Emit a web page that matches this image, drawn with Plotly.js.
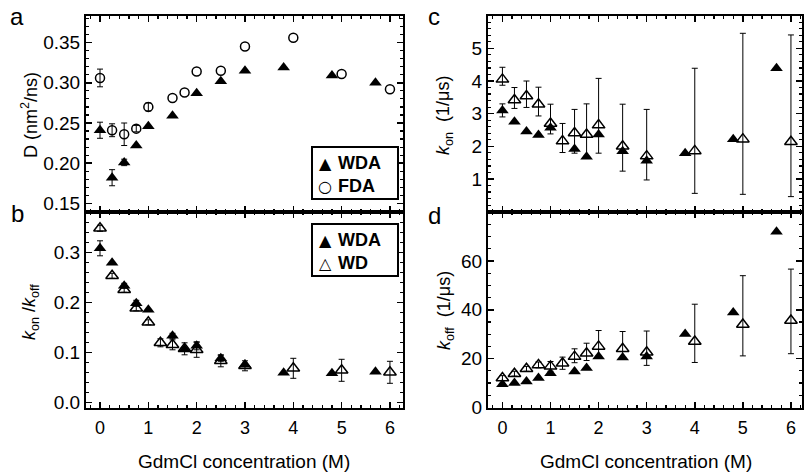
<!DOCTYPE html>
<html>
<head>
<meta charset="utf-8">
<script src="https://cdn.plot.ly/plotly-3.0.1.min.js"></script>
<style>html,body{margin:0;padding:0;background:#fff;}#chart{width:804px;height:473px;}</style>
</head>
<body>
<div id="chart"></div>
<script>
// ---- Panel a: diffusion coefficient D (nm^2/ns)
const aWdaX = [0, 0.25, 0.5, 0.75, 1, 1.5, 2, 2.5, 3, 3.8, 4.8, 5.7];
const aWdaY = [0.241, 0.182, 0.201, 0.222, 0.246, 0.259, 0.287, 0.302, 0.315, 0.319, 0.309, 0.300];
const aWdaErr = [0.010, 0.010, 0.004, null, null, null, null, null, null, null, null, null];
const aFdaX = [0, 0.25, 0.5, 0.75, 1, 1.5, 1.75, 2, 2.5, 3, 4, 5, 6];
const aFdaY = [0.306, 0.241, 0.236, 0.243, 0.270, 0.281, 0.288, 0.314, 0.315, 0.345, 0.356, 0.311, 0.292];
const aFdaErr = [0.011, 0.008, 0.014, 0.004, 0.005, null, null, null, null, null, null, null, null];

// ---- Panel b: kon/koff
const bWdaX = [0, 0.25, 0.5, 0.75, 1, 1.5, 1.75, 2, 2.5, 3, 3.8, 4.8, 5.7];
const bWdaY = [0.308, 0.279, 0.233, 0.198, 0.185, 0.133, 0.106, 0.113, 0.088, 0.075, 0.059, 0.058, 0.061];
const bWdaErr = [0.015, null, 0.005, 0.006, null, 0.005, null, 0.008, 0.006, null, null, null, null];
const bWdX = [0, 0.25, 0.5, 0.75, 1, 1.25, 1.5, 1.75, 2, 2.5, 3, 4, 5, 6];
const bWdY = [0.348, 0.253, 0.225, 0.188, 0.160, 0.119, 0.115, 0.107, 0.105, 0.083, 0.073, 0.068, 0.064, 0.060];
const bWdErr = [0.006, 0.005, 0.005, 0.005, 0.005, 0.008, 0.010, 0.012, 0.015, 0.012, 0.010, 0.020, 0.022, 0.022];

// ---- Panel c: kon (1/us)
const cWdaX = [0, 0.25, 0.5, 0.75, 1, 1.5, 1.75, 2, 2.5, 3, 3.8, 4.8, 5.7];
const cWdaY = [3.1, 2.75, 2.45, 2.35, 2.57, 1.92, 1.68, 2.36, 1.85, 1.56, 1.79, 2.22, 4.39];
const cWdaErr = [0.2, null, null, null, null, null, null, null, null, null, null, null, null];
const cWdX = [0, 0.25, 0.5, 0.75, 1, 1.25, 1.5, 1.75, 2, 2.5, 3, 4, 5, 6];
const cWdY = [4.05, 3.42, 3.54, 3.29, 2.70, 2.16, 2.41, 2.36, 2.65, 2.00, 1.70, 1.86, 2.22, 2.14];
const cWdErrPlus = [0.37, 0.38, 0.46, 0.52, 0.59, 0.54, 0.72, 0.94, 1.43, 1.29, 1.43, 2.53, 3.24, 3.27];
const cWdErrMinus = [0.18, 0.26, 0.35, 0.36, 0.32, 0.35, 0.62, 0.66, 0.86, 0.76, 0.73, 1.30, 1.69, 1.68];

// ---- Panel d: koff (1/us)
const dWdaX = [0, 0.25, 0.5, 0.75, 1, 1.5, 1.75, 2, 2.5, 3, 3.8, 4.8, 5.7];
const dWdaY = [9.5, 10.0, 10.6, 12.0, 14.0, 14.7, 16.1, 20.8, 20.4, 20.8, 30.1, 38.9, 72.0];
const dWdX = [0, 0.25, 0.5, 0.75, 1, 1.25, 1.5, 1.75, 2, 2.5, 3, 4, 5, 6];
const dWdY = [12.0, 13.8, 15.8, 17.4, 16.8, 18.1, 20.8, 22.2, 25.0, 24.0, 22.6, 27.0, 34.0, 35.6];
const dWdErrPlus = [1.0, 1.0, 1.0, 1.2, 2.0, 2.5, 3.2, 4.1, 6.5, 7.1, 8.7, 15.3, 20.0, 21.1];
const dWdErrMinus = [1.0, 1.0, 1.0, 1.2, 2.0, 2.5, 2.5, 3.0, 4.0, 4.0, 5.4, 8.6, 12.9, 13.6];

const xTickVals = [0, 1, 2, 3, 4, 5, 6];
const aTickVals = [0.15, 0.20, 0.25, 0.30, 0.35];
const bTickVals = [0.0, 0.1, 0.2, 0.3];
const cTickVals = [1, 2, 3, 4, 5];
const dTickVals = [0, 20, 40, 60];

const legendA = [{sym: '▲', label: 'WDA'}, {sym: '○', label: 'FDA'}];
const legendB = [{sym: '▲', label: 'WDA'}, {sym: '△', label: 'WD'}];

const FONT = 'Liberation Sans, Arial, sans-serif';
const BLACK = '#000';

function nanify(arr) { return arr.map(v => (v === null ? NaN : v)); }
function errObj(arr, minus) {
  const e = {type: 'data', array: nanify(arr), visible: true, color: BLACK, thickness: 1, width: 3};
  if (minus) { e.symmetric = false; e.arrayminus = nanify(minus); }
  return e;
}
function mk(x, y, xa, ya, name, symbol, size, err) {
  const m = {symbol: symbol, size: size, color: BLACK};
  m.line = symbol.indexOf('open') >= 0 ? {width: 1.5, color: BLACK} : {width: 0};
  return {x: x, y: y, xaxis: xa, yaxis: ya, name: name, type: 'scatter', mode: 'markers',
    marker: m, error_y: err ? err : {visible: false}, showlegend: false};
}

const traces = [
  mk(aWdaX, aWdaY, 'x', 'y', 'WDA', 'triangle-up', 11, errObj(aWdaErr)),
  mk(aFdaX, aFdaY, 'x', 'y', 'FDA', 'circle-open', 9, errObj(aFdaErr)),
  mk(bWdX, bWdY, 'x2', 'y2', 'WD', 'triangle-up-open', 11, errObj(bWdErr)),
  mk(bWdaX, bWdaY, 'x2', 'y2', 'WDA', 'triangle-up', 11, errObj(bWdaErr)),
  mk(cWdX, cWdY, 'x3', 'y3', 'WD', 'triangle-up-open', 11, errObj(cWdErrPlus, cWdErrMinus)),
  mk(cWdaX, cWdaY, 'x3', 'y3', 'WDA', 'triangle-up', 11, errObj(cWdaErr)),
  mk(dWdX, dWdY, 'x4', 'y4', 'WD', 'triangle-up-open', 11, errObj(dWdErrPlus, dWdErrMinus)),
  mk(dWdaX, dWdaY, 'x4', 'y4', 'WDA', 'triangle-up', 11, null)
];

const W = 804, H = 473;
const leftDom = [86 / W, 403 / W];
const rightDom = [488 / W, 802 / W];
const topDom = [1 - 212.3 / H, 1 - 16 / H];
const botDom = [1 - 408.3 / H, 1 - 212.3 / H];

function xAxis(dom, range, anchor, labels) {
  return {domain: dom, range: range, anchor: anchor, showline: true, linecolor: BLACK, linewidth: 2,
    mirror: 'allticks', ticks: 'inside', ticklen: 6, tickwidth: 1.5, tickcolor: BLACK,
    tickvals: xTickVals, showticklabels: labels, showgrid: false, zeroline: false, ticklabelstandoff: 2,
    tickfont: {family: FONT, size: 18, color: BLACK},
    minor: {ticks: 'inside', ticklen: 3, tickwidth: 1.2, tickcolor: BLACK, dtick: 0.2, tick0: 0, showgrid: false}};
}
function yAxis(dom, range, anchor, vals, fmt, mdt) {
  return {domain: dom, range: range, anchor: anchor, showline: true, linecolor: BLACK, linewidth: 2,
    mirror: 'allticks', ticks: 'inside', ticklen: 6, tickwidth: 1.5, tickcolor: BLACK,
    tickvals: vals, tickformat: fmt, showgrid: false, zeroline: false,
    tickfont: {family: FONT, size: 19, color: BLACK},
    minor: {ticks: 'inside', ticklen: 3, tickwidth: 1.2, tickcolor: BLACK, dtick: mdt, tick0: 0, showgrid: false}};
}

function ann(text, x, y, opts) {
  return Object.assign({text: text, xref: 'paper', yref: 'paper', x: x / W, y: 1 - y / H,
    showarrow: false, xanchor: 'center', yanchor: 'middle',
    font: {family: FONT, size: 18, color: BLACK}}, opts || {});
}

// custom legend boxes (box position in px)
function legendItems(items, top) {
  const out = [];
  items.forEach((it, i) => {
    const yc = top + 16 + i * 23;
    out.push(ann(it.sym, 325, yc, {font: {family: 'DejaVu Sans, sans-serif', size: 16, color: BLACK}}));
    out.push(ann(it.label, 336, yc, {xanchor: 'left', font: {family: FONT, size: 18, color: BLACK, weight: 'bold'}}));
  });
  return out;
}
function legendBox(top) {
  return {type: 'rect', xref: 'paper', yref: 'paper', x0: 312 / W, x1: 398 / W,
    y0: 1 - (top + 52) / H, y1: 1 - top / H, line: {color: BLACK, width: 2}, fillcolor: '#fff', layer: 'above'};
}

const layout = {
  width: W, height: H, margin: {l: 0, r: 0, t: 0, b: 0},
  paper_bgcolor: '#fff', plot_bgcolor: '#fff',
  font: {family: FONT, color: BLACK},
  showlegend: false,
  xaxis: xAxis(leftDom, [-0.29, 6.27], 'y', false),
  yaxis: yAxis(topDom, [0.139, 0.383], 'x', aTickVals, '.2f', 0.01),
  xaxis2: xAxis(leftDom, [-0.29, 6.27], 'y2', true),
  yaxis2: yAxis(botDom, [-0.012, 0.38], 'x2', bTickVals, '.1f', 0.02),
  xaxis3: xAxis(rightDom, [-0.30, 6.23], 'y3', false),
  yaxis3: yAxis(topDom, [-0.02, 5.99], 'x3', cTickVals, 'd', 0.2),
  xaxis4: xAxis(rightDom, [-0.30, 6.23], 'y4', true),
  yaxis4: yAxis(botDom, [-0.4, 80], 'x4', dTickVals, 'd', 5),
  shapes: [legendBox(147), legendBox(224)],
  annotations: [
    ann('a', 17, 17, {font: {family: FONT, size: 24, color: BLACK}}),
    ann('b', 17, 213, {font: {family: FONT, size: 24, color: BLACK}}),
    ann('c', 434, 17, {font: {family: FONT, size: 24, color: BLACK}}),
    ann('d', 434, 215, {font: {family: FONT, size: 24, color: BLACK}}),
    ann('D (nm<sup>2</sup>/ns)', 30, 115, {textangle: -90}),
    ann('<i>k</i><sub>on</sub> /<i>k</i><sub>off</sub>', 30, 312, {textangle: -90}),
    ann('<i>k</i><sub>on</sub>  (1/μs)', 445, 115, {textangle: -90}),
    ann('<i>k</i><sub>off</sub>  (1/μs)', 445, 310, {textangle: -90}),
    ann('GdmCl concentration (M)', 244, 461, {font: {family: FONT, size: 19, color: BLACK}}),
    ann('GdmCl concentration (M)', 646, 461, {font: {family: FONT, size: 19, color: BLACK}})
  ].concat(legendItems(legendA, 147), legendItems(legendB, 224))
};

Plotly.newPlot('chart', traces, layout, {displayModeBar: false, staticPlot: true});
</script>
</body>
</html>
